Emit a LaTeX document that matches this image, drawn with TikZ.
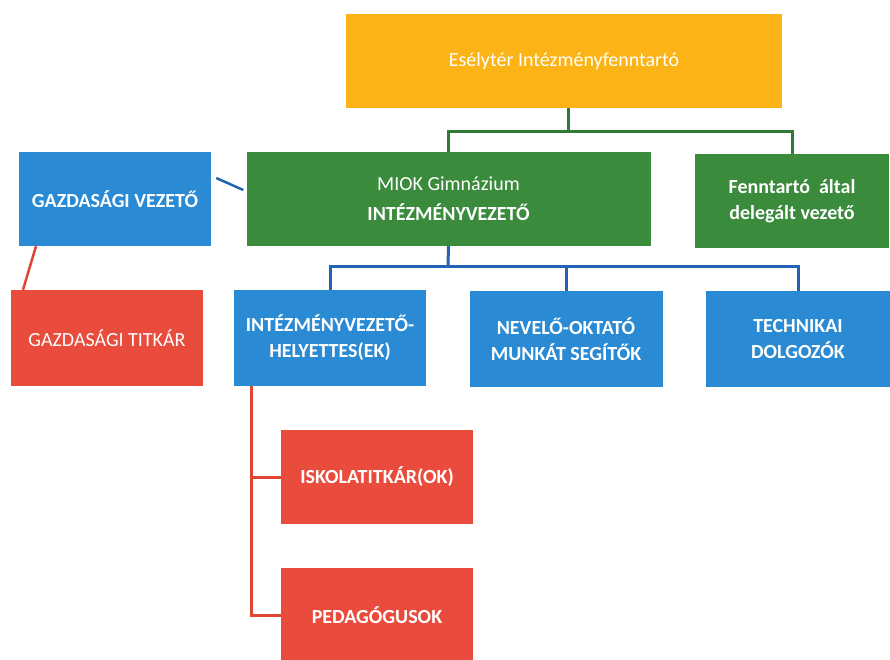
\documentclass[tikz,border=0pt]{standalone}
\usepackage{fontspec}
\setmainfont{Carlito}
\definecolor{corange}{HTML}{FCB316}
\definecolor{cgreen}{HTML}{3B8B3D}
\definecolor{cblue}{HTML}{2A8AD4}
\definecolor{cred}{HTML}{E94B3C}
\definecolor{lgreen}{HTML}{2F7A35}
\definecolor{lblue}{HTML}{2363B3}
\definecolor{lred}{HTML}{E04535}
\tikzset{
  box/.style={draw=none, minimum height=94pt, inner sep=2pt, text=white, align=center, font=\fontsize{20}{26}\selectfont},
  bbox/.style={box, font=\fontsize{20}{26}\selectfont\bfseries},
  conn/.style={line width=3pt},
}
\begin{document}
\begin{tikzpicture}[x=1pt,y=-1pt]
\useasboundingbox (0,0) rectangle (890,660);
\fill[white] (0,0) rectangle (890,660);
% boxes
\node[box, fill=corange, minimum width=436pt] (orange) at (564,61) {Esélytér Intézményfenntartó};
\node[box, fill=cgreen, minimum width=404pt] (miok) at (448.5,199) {MIOK Gimnázium\\[4pt]\textbf{INTÉZMÉNYVEZETŐ}};
\node[bbox, fill=cgreen, minimum width=194pt, minimum height=93pt] (fennt) at (792,201) {Fenntartó \ által\\delegált vezető};
\node[bbox, fill=cblue, minimum width=192pt] (gv) at (115,199) {GAZDASÁGI VEZETŐ};
\node[box, fill=cred, minimum width=192pt, minimum height=96pt] (gt) at (107,338) {GAZDASÁGI TITKÁR};
\node[bbox, fill=cblue, minimum width=192pt, minimum height=96pt] (ivh) at (330,338) {INTÉZMÉNYVEZETŐ-\\HELYETTES(EK)};
\node[bbox, fill=cblue, minimum width=193pt, minimum height=96pt] (nev) at (566,339) {NEVELŐ-OKTATÓ\\MUNKÁT SEGÍTŐK};
\node[bbox, fill=cblue, minimum width=184pt, minimum height=96pt] (tech) at (798,339) {TECHNIKAI\\DOLGOZÓK};
\node[bbox, fill=cred, minimum width=192pt] (isk) at (377,477) {ISKOLATITKÁR(OK)};
\node[bbox, fill=cred, minimum width=192pt] (ped) at (377,615) {PEDAGÓGUSOK};
% green connectors
\coordinate (gj) at (568,132);
\draw[conn, lgreen] (orange.south -| gj) -- (gj);
\draw[conn, lgreen] (miok.north) |- (gj) -| (fennt.north);
% blue connectors
\coordinate (bj) at (448,266);
\draw[conn, lblue] (miok.south) -- (bj);
\draw[conn, lblue] (ivh.north) |- (bj) -| (tech.north);
\draw[conn, lblue] (nev.north) -- (nev.north |- bj);
\draw[conn, lblue, line width=2.5pt] ([xshift=5pt,yshift=21pt]gv.east) -- ([xshift=-3pt,yshift=9pt]miok.west);
% red connectors
\draw[conn, lred, line width=2.5pt] ([xshift=-79pt]gv.south) -- ([xshift=-84pt]gt.north);
\coordinate (rt) at (251,386);
\draw[conn, lred] (rt) |- (ped.west);
\draw[conn, lred] (isk.west) -- (isk.west -| rt);
\end{tikzpicture}
\end{document}
